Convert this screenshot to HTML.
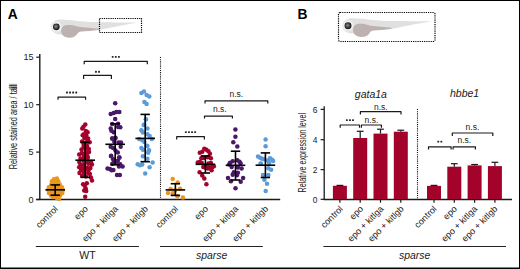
<!DOCTYPE html>
<html><head><meta charset="utf-8"><style>html,body{margin:0;padding:0;background:#fff;width:520px;height:269px;overflow:hidden;font-family:'Liberation Sans', sans-serif}</style></head>
<body>
<svg width="520" height="269" viewBox="0 0 520 269" style="position:absolute;left:0;top:0;font-family:'Liberation Sans', sans-serif">
<defs><radialGradient id="eyeg" cx="0.45" cy="0.45" r="0.6"><stop offset="0" stop-color="#909090"/><stop offset="0.5" stop-color="#444"/><stop offset="0.85" stop-color="#161616"/><stop offset="1" stop-color="#222"/></radialGradient></defs>
<rect x="0" y="0" width="520" height="269" fill="#fff"/>
<rect x="0.5" y="0.5" width="519" height="267.5" fill="none" stroke="#000" stroke-width="1"/>
<line x1="0" y1="268.5" x2="520" y2="268.5" stroke="#000" stroke-width="1" />
<text x="7.8" y="18.8" font-size="13.8" text-anchor="start" font-style="normal" font-weight="bold" fill="#000" >A</text>
<text x="297.4" y="18.8" font-size="13.8" text-anchor="start" font-style="normal" font-weight="bold" fill="#000" >B</text>
<g transform="translate(56.2,26.6) scale(1.0)">
<path d="M -4.9,0.4 C -4.9,-4 -2,-6.5 2,-6.9 C 8,-7.3 15,-6.2 23.4,-5.4 C 30,-4.9 37,-4.5 43,-4.4 C 60,-4.2 72,-4.2 81.3,-4.1 C 72,-2.5 60,0 44,3.1 L 30,4 L 22,5 L 10,8 C 5,8.5 0,7.6 -2,6.2 C -4,4.8 -4.9,2.5 -4.9,0.4 Z" fill="#e0e0e0"/>
<circle cx="0.2" cy="0.2" r="5.8" fill="#e9e9e9"/>
<circle cx="0.1" cy="0.2" r="4.4" fill="#f7f7f7"/>
<path d="M 5,4.4 C 5,0.5 7.5,-1.5 11,-1.6 C 14.5,-1.7 17,-1.2 19.5,-0.6 C 21.5,0 23,0.3 25,0.5 C 30,1 36,1.5 41.8,2.1 C 43.2,2.3 43.5,3.0 41.8,3.4 C 36,4.2 30,4.7 25,4.8 C 23,4.9 22,5.5 21,7.5 C 19.5,10 17,11.1 13.5,11.1 C 8.5,11.2 5,8.5 5,4.4 Z" fill="#bdb1b1"/>
<circle cx="0.1" cy="0.2" r="3.4" fill="url(#eyeg)"/>
</g>
<rect x="99.5" y="18.5" width="42.0" height="14.0" rx="0" fill="none" stroke="#000" stroke-width="1.2" stroke-dasharray="1.2 1"/>
<g transform="translate(347.9,25.5) scale(1.025)">
<path d="M -4.9,0.4 C -4.9,-4 -2,-6.5 2,-6.9 C 8,-7.3 15,-6.2 23.4,-5.4 C 30,-4.9 37,-4.5 43,-4.4 C 60,-4.2 72,-4.2 81.3,-4.1 C 72,-2.5 60,0 44,3.1 L 30,4 L 22,5 L 10,8 C 5,8.5 0,7.6 -2,6.2 C -4,4.8 -4.9,2.5 -4.9,0.4 Z" fill="#e0e0e0"/>
<circle cx="0.2" cy="0.2" r="5.8" fill="#e9e9e9"/>
<circle cx="0.1" cy="0.2" r="4.4" fill="#f7f7f7"/>
<path d="M 5,4.4 C 5,0.5 7.5,-1.5 11,-1.6 C 14.5,-1.7 17,-1.2 19.5,-0.6 C 21.5,0 23,0.3 25,0.5 C 30,1 36,1.5 41.8,2.1 C 43.2,2.3 43.5,3.0 41.8,3.4 C 36,4.2 30,4.7 25,4.8 C 23,4.9 22,5.5 21,7.5 C 19.5,10 17,11.1 13.5,11.1 C 8.5,11.2 5,8.5 5,4.4 Z" fill="#bdb1b1"/>
<circle cx="0.1" cy="0.2" r="3.4" fill="url(#eyeg)"/>
</g>
<rect x="338.5" y="12.5" width="96.5" height="29.0" rx="1.5" fill="none" stroke="#000" stroke-width="1.2" stroke-dasharray="1.2 1"/>
<line x1="39.8" y1="54" x2="39.8" y2="200.1" stroke="#1a1a1a" stroke-width="1.4" />
<line x1="36.2" y1="57.2" x2="39.8" y2="57.2" stroke="#1a1a1a" stroke-width="1.2" />
<text x="33.4" y="60.400000000000006" font-size="9" text-anchor="end" font-style="normal" font-weight="normal" fill="#1a1a1a" >15</text>
<line x1="36.2" y1="104.7" x2="39.8" y2="104.7" stroke="#1a1a1a" stroke-width="1.2" />
<text x="33.4" y="107.9" font-size="9" text-anchor="end" font-style="normal" font-weight="normal" fill="#1a1a1a" >10</text>
<line x1="36.2" y1="152.1" x2="39.8" y2="152.1" stroke="#1a1a1a" stroke-width="1.2" />
<text x="33.4" y="155.29999999999998" font-size="9" text-anchor="end" font-style="normal" font-weight="normal" fill="#1a1a1a" >5</text>
<line x1="36.2" y1="199.5" x2="39.8" y2="199.5" stroke="#1a1a1a" stroke-width="1.2" />
<text x="33.4" y="202.7" font-size="9" text-anchor="end" font-style="normal" font-weight="normal" fill="#1a1a1a" >0</text>
<line x1="36.2" y1="199.5" x2="280.2" y2="199.5" stroke="#1a1a1a" stroke-width="1.3" />
<line x1="160.5" y1="57" x2="160.5" y2="199" stroke="#111" stroke-width="1.1" stroke-dasharray="1.1 1.05"/>
<rect x="9.2" y="83.8" width="7.8" height="5.8" fill="#a8a8a8"/>
<text x="0" y="0" font-size="10.8" text-anchor="start" font-style="normal" font-weight="normal" fill="#1a1a1a" transform="translate(16.9,169.3) rotate(-90) scale(0.68,1)">Relative stained area / tail</text>
<line x1="324.2" y1="106.3" x2="324.2" y2="199.8" stroke="#1a1a1a" stroke-width="1.3" />
<line x1="320.6" y1="109.4" x2="324.2" y2="109.4" stroke="#1a1a1a" stroke-width="1.2" />
<text x="317.4" y="112.9" font-size="8.4" text-anchor="end" font-style="normal" font-weight="normal" fill="#1a1a1a" >6</text>
<line x1="320.6" y1="139.7" x2="324.2" y2="139.7" stroke="#1a1a1a" stroke-width="1.2" />
<text x="317.4" y="143.2" font-size="8.4" text-anchor="end" font-style="normal" font-weight="normal" fill="#1a1a1a" >4</text>
<line x1="320.6" y1="169.6" x2="324.2" y2="169.6" stroke="#1a1a1a" stroke-width="1.2" />
<text x="317.4" y="173.1" font-size="8.4" text-anchor="end" font-style="normal" font-weight="normal" fill="#1a1a1a" >2</text>
<line x1="320.6" y1="199.3" x2="324.2" y2="199.3" stroke="#1a1a1a" stroke-width="1.2" />
<text x="317.4" y="202.8" font-size="8.4" text-anchor="end" font-style="normal" font-weight="normal" fill="#1a1a1a" >0</text>
<line x1="323.6" y1="199.5" x2="512" y2="199.5" stroke="#1a1a1a" stroke-width="1.3" />
<line x1="417.5" y1="109" x2="417.5" y2="199" stroke="#111" stroke-width="1.1" stroke-dasharray="1.1 1.05"/>
<text x="0" y="0" font-size="10.6" text-anchor="start" font-style="normal" font-weight="normal" fill="#1a1a1a" transform="translate(306.2,192.4) rotate(-90) scale(0.678,1)">Relative expression level</text>
<rect x="332.9" y="185.8" width="14" height="13.199999999999989" fill="#a3022b"/>
<line x1="339.9" y1="185.4" x2="339.9" y2="185.8" stroke="#1a1a1a" stroke-width="1.2" />
<line x1="336.5" y1="185.4" x2="343.29999999999995" y2="185.4" stroke="#1a1a1a" stroke-width="1.2" />
<line x1="339.9" y1="199.5" x2="339.9" y2="202.7" stroke="#1a1a1a" stroke-width="1.2" />
<rect x="353.2" y="138.0" width="14" height="61.0" fill="#a3022b"/>
<line x1="360.2" y1="131.3" x2="360.2" y2="138.0" stroke="#1a1a1a" stroke-width="1.2" />
<line x1="356.8" y1="131.3" x2="363.59999999999997" y2="131.3" stroke="#1a1a1a" stroke-width="1.2" />
<line x1="360.2" y1="199.5" x2="360.2" y2="202.7" stroke="#1a1a1a" stroke-width="1.2" />
<rect x="373.5" y="133.6" width="14" height="65.4" fill="#a3022b"/>
<line x1="380.5" y1="129.2" x2="380.5" y2="133.6" stroke="#1a1a1a" stroke-width="1.2" />
<line x1="377.1" y1="129.2" x2="383.9" y2="129.2" stroke="#1a1a1a" stroke-width="1.2" />
<line x1="380.5" y1="199.5" x2="380.5" y2="202.7" stroke="#1a1a1a" stroke-width="1.2" />
<rect x="393.8" y="131.7" width="14" height="67.30000000000001" fill="#a3022b"/>
<line x1="400.8" y1="130.2" x2="400.8" y2="131.7" stroke="#1a1a1a" stroke-width="1.2" />
<line x1="397.40000000000003" y1="130.2" x2="404.2" y2="130.2" stroke="#1a1a1a" stroke-width="1.2" />
<line x1="400.8" y1="199.5" x2="400.8" y2="202.7" stroke="#1a1a1a" stroke-width="1.2" />
<rect x="427.0" y="185.9" width="14" height="13.099999999999994" fill="#a3022b"/>
<line x1="434.0" y1="185.4" x2="434.0" y2="185.9" stroke="#1a1a1a" stroke-width="1.2" />
<line x1="430.6" y1="185.4" x2="437.4" y2="185.4" stroke="#1a1a1a" stroke-width="1.2" />
<line x1="434.0" y1="199.5" x2="434.0" y2="202.7" stroke="#1a1a1a" stroke-width="1.2" />
<rect x="447.3" y="166.7" width="14" height="32.30000000000001" fill="#a3022b"/>
<line x1="454.3" y1="163.7" x2="454.3" y2="166.7" stroke="#1a1a1a" stroke-width="1.2" />
<line x1="450.90000000000003" y1="163.7" x2="457.7" y2="163.7" stroke="#1a1a1a" stroke-width="1.2" />
<line x1="454.3" y1="199.5" x2="454.3" y2="202.7" stroke="#1a1a1a" stroke-width="1.2" />
<rect x="467.6" y="165.4" width="14" height="33.599999999999994" fill="#a3022b"/>
<line x1="474.6" y1="164.5" x2="474.6" y2="165.4" stroke="#1a1a1a" stroke-width="1.2" />
<line x1="471.20000000000005" y1="164.5" x2="478.0" y2="164.5" stroke="#1a1a1a" stroke-width="1.2" />
<line x1="474.6" y1="199.5" x2="474.6" y2="202.7" stroke="#1a1a1a" stroke-width="1.2" />
<rect x="487.9" y="166.1" width="14" height="32.900000000000006" fill="#a3022b"/>
<line x1="494.9" y1="162.3" x2="494.9" y2="166.1" stroke="#1a1a1a" stroke-width="1.2" />
<line x1="491.5" y1="162.3" x2="498.29999999999995" y2="162.3" stroke="#1a1a1a" stroke-width="1.2" />
<line x1="494.9" y1="199.5" x2="494.9" y2="202.7" stroke="#1a1a1a" stroke-width="1.2" />
<text x="370.9" y="97.8" font-size="10.5" text-anchor="middle" font-style="italic" font-weight="normal" fill="#1a1a1a" >gata1a</text>
<text x="464.6" y="97.2" font-size="10.5" text-anchor="middle" font-style="italic" font-weight="normal" fill="#1a1a1a" >hbbe1</text>
<path d="M 340.2,127.8 L 340.2,125 L 359.5,125 L 359.5,127.8" fill="none" stroke="#1a1a1a" stroke-width="1.2" stroke-linejoin="round"/>
<rect x="345.85" y="119.15" width="1.9" height="1.9" rx="0.5" fill="#262626"/>
<rect x="348.95" y="119.15" width="1.9" height="1.9" rx="0.5" fill="#262626"/>
<rect x="352.05" y="119.15" width="1.9" height="1.9" rx="0.5" fill="#262626"/>
<path d="M 361.4,127.8 L 361.4,125 L 381.4,125 L 381.4,127.8" fill="none" stroke="#1a1a1a" stroke-width="1.2" stroke-linejoin="round"/>
<text x="371.4" y="122.60000000000001" font-size="8.5" text-anchor="middle" font-style="normal" font-weight="normal" fill="#1a1a1a" >n.s.</text>
<path d="M 360.4,114.4 L 360.4,111.7 L 401,111.7 L 401,114.4" fill="none" stroke="#1a1a1a" stroke-width="1.2" stroke-linejoin="round"/>
<text x="380.8" y="109.5" font-size="8.5" text-anchor="middle" font-style="normal" font-weight="normal" fill="#1a1a1a" >n.s.</text>
<path d="M 428.5,149.4 L 428.5,146.8 L 451.1,146.8 L 451.1,149.4" fill="none" stroke="#1a1a1a" stroke-width="1.2" stroke-linejoin="round"/>
<rect x="437.30" y="140.65" width="1.9" height="1.9" rx="0.5" fill="#262626"/>
<rect x="440.40" y="140.65" width="1.9" height="1.9" rx="0.5" fill="#262626"/>
<path d="M 453.1,149.4 L 453.1,146.8 L 475.4,146.8 L 475.4,149.4" fill="none" stroke="#1a1a1a" stroke-width="1.2" stroke-linejoin="round"/>
<text x="464.3" y="143.39999999999998" font-size="8.5" text-anchor="middle" font-style="normal" font-weight="normal" fill="#1a1a1a" >n.s.</text>
<path d="M 452.3,136.1 L 452.3,133 L 492.8,133 L 492.8,136.1" fill="none" stroke="#1a1a1a" stroke-width="1.2" stroke-linejoin="round"/>
<text x="472.4" y="130.29999999999998" font-size="8.5" text-anchor="middle" font-style="normal" font-weight="normal" fill="#1a1a1a" >n.s.</text>
<path d="M 58,99.7 L 58,97.1 L 85.6,97.1 L 85.6,99.7" fill="none" stroke="#1a1a1a" stroke-width="1.2" stroke-linejoin="round"/>
<rect x="66.00" y="91.55" width="1.9" height="1.9" rx="0.5" fill="#262626"/>
<rect x="69.10" y="91.55" width="1.9" height="1.9" rx="0.5" fill="#262626"/>
<rect x="72.20" y="91.55" width="1.9" height="1.9" rx="0.5" fill="#262626"/>
<rect x="75.30" y="91.55" width="1.9" height="1.9" rx="0.5" fill="#262626"/>
<path d="M 83.6,78.9 L 83.6,75.4 L 111.4,75.4 L 111.4,78.9" fill="none" stroke="#1a1a1a" stroke-width="1.2" stroke-linejoin="round"/>
<rect x="95.00" y="70.75" width="1.9" height="1.9" rx="0.5" fill="#262626"/>
<rect x="98.10" y="70.75" width="1.9" height="1.9" rx="0.5" fill="#262626"/>
<path d="M 84.2,64.3 L 84.2,61.3 L 147.3,61.3 L 147.3,64.3" fill="none" stroke="#1a1a1a" stroke-width="1.2" stroke-linejoin="round"/>
<rect x="111.75" y="55.95" width="1.9" height="1.9" rx="0.5" fill="#262626"/>
<rect x="114.85" y="55.95" width="1.9" height="1.9" rx="0.5" fill="#262626"/>
<rect x="117.95" y="55.95" width="1.9" height="1.9" rx="0.5" fill="#262626"/>
<path d="M 176.7,139.5 L 176.7,136.7 L 204.4,136.7 L 204.4,139.5" fill="none" stroke="#1a1a1a" stroke-width="1.2" stroke-linejoin="round"/>
<rect x="184.90" y="131.15" width="1.9" height="1.9" rx="0.5" fill="#262626"/>
<rect x="188.00" y="131.15" width="1.9" height="1.9" rx="0.5" fill="#262626"/>
<rect x="191.10" y="131.15" width="1.9" height="1.9" rx="0.5" fill="#262626"/>
<rect x="194.20" y="131.15" width="1.9" height="1.9" rx="0.5" fill="#262626"/>
<path d="M 204.5,118.6 L 204.5,116.2 L 232.4,116.2 L 232.4,118.6" fill="none" stroke="#1a1a1a" stroke-width="1.2" stroke-linejoin="round"/>
<text x="219.8" y="111.9" font-size="8.5" text-anchor="middle" font-style="normal" font-weight="normal" fill="#1a1a1a" >n.s.</text>
<path d="M 205,103.5 L 205,100.8 L 267.8,100.8 L 267.8,103.5" fill="none" stroke="#1a1a1a" stroke-width="1.2" stroke-linejoin="round"/>
<text x="236.3" y="97.2" font-size="8.5" text-anchor="middle" font-style="normal" font-weight="normal" fill="#1a1a1a" >n.s.</text>
<circle cx="53.9" cy="179.2" r="2.25" fill="#e9961e"/>
<circle cx="56.9" cy="178.6" r="2.25" fill="#e9961e"/>
<circle cx="51.9" cy="181.3" r="2.25" fill="#e9961e"/>
<circle cx="55.1" cy="181.3" r="2.25" fill="#e9961e"/>
<circle cx="58.3" cy="181.3" r="2.25" fill="#e9961e"/>
<circle cx="51.3" cy="184.5" r="2.25" fill="#e9961e"/>
<circle cx="54.1" cy="184.5" r="2.25" fill="#e9961e"/>
<circle cx="57.0" cy="184.5" r="2.25" fill="#e9961e"/>
<circle cx="59.8" cy="184.5" r="2.25" fill="#e9961e"/>
<circle cx="48.9" cy="187.3" r="2.25" fill="#e9961e"/>
<circle cx="52.1" cy="187.3" r="2.25" fill="#e9961e"/>
<circle cx="55.4" cy="187.3" r="2.25" fill="#e9961e"/>
<circle cx="58.6" cy="187.3" r="2.25" fill="#e9961e"/>
<circle cx="61.9" cy="187.3" r="2.25" fill="#e9961e"/>
<circle cx="48.3" cy="190.1" r="2.25" fill="#e9961e"/>
<circle cx="51.2" cy="190.1" r="2.25" fill="#e9961e"/>
<circle cx="54.1" cy="190.1" r="2.25" fill="#e9961e"/>
<circle cx="57.1" cy="190.1" r="2.25" fill="#e9961e"/>
<circle cx="60.0" cy="190.1" r="2.25" fill="#e9961e"/>
<circle cx="62.9" cy="190.1" r="2.25" fill="#e9961e"/>
<circle cx="48.9" cy="192.9" r="2.25" fill="#e9961e"/>
<circle cx="52.2" cy="192.9" r="2.25" fill="#e9961e"/>
<circle cx="55.6" cy="192.9" r="2.25" fill="#e9961e"/>
<circle cx="58.9" cy="192.9" r="2.25" fill="#e9961e"/>
<circle cx="62.3" cy="192.9" r="2.25" fill="#e9961e"/>
<circle cx="51.1" cy="195.5" r="2.25" fill="#e9961e"/>
<circle cx="54.1" cy="195.5" r="2.25" fill="#e9961e"/>
<circle cx="57.1" cy="195.5" r="2.25" fill="#e9961e"/>
<circle cx="60.1" cy="195.5" r="2.25" fill="#e9961e"/>
<circle cx="56.9" cy="197.9" r="2.25" fill="#e9961e"/>
<circle cx="58.9" cy="199.1" r="2.25" fill="#e9961e"/>
<circle cx="52.9" cy="196.9" r="2.25" fill="#e9961e"/>
<circle cx="85.3" cy="124.5" r="2.25" fill="#a3022b"/>
<circle cx="83.5" cy="126.8" r="2.25" fill="#a3022b"/>
<circle cx="82.3" cy="128.5" r="2.25" fill="#a3022b"/>
<circle cx="85.8" cy="131.0" r="2.25" fill="#a3022b"/>
<circle cx="87.6" cy="132.2" r="2.25" fill="#a3022b"/>
<circle cx="83.9" cy="134.3" r="2.25" fill="#a3022b"/>
<circle cx="82.7" cy="135.2" r="2.25" fill="#a3022b"/>
<circle cx="86.3" cy="135.6" r="2.25" fill="#a3022b"/>
<circle cx="84.4" cy="138.0" r="2.25" fill="#a3022b"/>
<circle cx="88.1" cy="138.4" r="2.25" fill="#a3022b"/>
<circle cx="82.1" cy="141.4" r="2.25" fill="#a3022b"/>
<circle cx="87.5" cy="139.6" r="2.25" fill="#a3022b"/>
<circle cx="89.7" cy="142.3" r="2.25" fill="#a3022b"/>
<circle cx="83.6" cy="144.0" r="2.25" fill="#a3022b"/>
<circle cx="85.9" cy="142.6" r="2.25" fill="#a3022b"/>
<circle cx="83.6" cy="146.7" r="2.25" fill="#a3022b"/>
<circle cx="87.1" cy="146.0" r="2.25" fill="#a3022b"/>
<circle cx="81.5" cy="149.5" r="2.25" fill="#a3022b"/>
<circle cx="85.2" cy="148.8" r="2.25" fill="#a3022b"/>
<circle cx="88.8" cy="149.1" r="2.25" fill="#a3022b"/>
<circle cx="81.9" cy="153.1" r="2.25" fill="#a3022b"/>
<circle cx="86.0" cy="152.4" r="2.25" fill="#a3022b"/>
<circle cx="89.0" cy="151.9" r="2.25" fill="#a3022b"/>
<circle cx="79.2" cy="154.5" r="2.25" fill="#a3022b"/>
<circle cx="83.7" cy="155.0" r="2.25" fill="#a3022b"/>
<circle cx="87.4" cy="155.9" r="2.25" fill="#a3022b"/>
<circle cx="80.5" cy="158.4" r="2.25" fill="#a3022b"/>
<circle cx="83.9" cy="157.5" r="2.25" fill="#a3022b"/>
<circle cx="87.8" cy="157.7" r="2.25" fill="#a3022b"/>
<circle cx="79.3" cy="162.1" r="2.25" fill="#a3022b"/>
<circle cx="83.4" cy="160.8" r="2.25" fill="#a3022b"/>
<circle cx="87.5" cy="161.8" r="2.25" fill="#a3022b"/>
<circle cx="91.1" cy="162.0" r="2.25" fill="#a3022b"/>
<circle cx="80.5" cy="164.8" r="2.25" fill="#a3022b"/>
<circle cx="83.6" cy="165.1" r="2.25" fill="#a3022b"/>
<circle cx="88.4" cy="163.8" r="2.25" fill="#a3022b"/>
<circle cx="91.9" cy="164.6" r="2.25" fill="#a3022b"/>
<circle cx="79.2" cy="167.3" r="2.25" fill="#a3022b"/>
<circle cx="83.0" cy="168.0" r="2.25" fill="#a3022b"/>
<circle cx="86.9" cy="167.8" r="2.25" fill="#a3022b"/>
<circle cx="90.4" cy="167.9" r="2.25" fill="#a3022b"/>
<circle cx="81.1" cy="170.2" r="2.25" fill="#a3022b"/>
<circle cx="84.4" cy="171.0" r="2.25" fill="#a3022b"/>
<circle cx="88.5" cy="170.3" r="2.25" fill="#a3022b"/>
<circle cx="79.5" cy="173.0" r="2.25" fill="#a3022b"/>
<circle cx="84.0" cy="172.8" r="2.25" fill="#a3022b"/>
<circle cx="88.2" cy="172.9" r="2.25" fill="#a3022b"/>
<circle cx="82.1" cy="176.0" r="2.25" fill="#a3022b"/>
<circle cx="85.9" cy="176.6" r="2.25" fill="#a3022b"/>
<circle cx="89.9" cy="173.9" r="2.25" fill="#a3022b"/>
<circle cx="90.9" cy="177.5" r="2.25" fill="#a3022b"/>
<circle cx="92.0" cy="180.6" r="2.25" fill="#a3022b"/>
<circle cx="86.8" cy="183.2" r="2.25" fill="#a3022b"/>
<circle cx="83.1" cy="184.3" r="2.25" fill="#a3022b"/>
<circle cx="84.7" cy="185.8" r="2.25" fill="#a3022b"/>
<circle cx="85.7" cy="188.4" r="2.25" fill="#a3022b"/>
<circle cx="84.2" cy="190.5" r="2.25" fill="#a3022b"/>
<circle cx="86.2" cy="191.0" r="2.25" fill="#a3022b"/>
<circle cx="85.2" cy="196.7" r="2.25" fill="#a3022b"/>
<circle cx="115.2" cy="103.3" r="2.25" fill="#4b1768"/>
<circle cx="110.7" cy="114.0" r="2.25" fill="#4b1768"/>
<circle cx="113.7" cy="112.9" r="2.25" fill="#4b1768"/>
<circle cx="116.3" cy="111.9" r="2.25" fill="#4b1768"/>
<circle cx="119.3" cy="111.9" r="2.25" fill="#4b1768"/>
<circle cx="115.2" cy="118.9" r="2.25" fill="#4b1768"/>
<circle cx="112.2" cy="124.1" r="2.25" fill="#4b1768"/>
<circle cx="118.1" cy="123.8" r="2.25" fill="#4b1768"/>
<circle cx="110.7" cy="128.5" r="2.25" fill="#4b1768"/>
<circle cx="118.1" cy="127.0" r="2.25" fill="#4b1768"/>
<circle cx="120.3" cy="127.3" r="2.25" fill="#4b1768"/>
<circle cx="111.4" cy="130.8" r="2.25" fill="#4b1768"/>
<circle cx="113.7" cy="132.3" r="2.25" fill="#4b1768"/>
<circle cx="112.2" cy="138.6" r="2.25" fill="#4b1768"/>
<circle cx="115.2" cy="138.6" r="2.25" fill="#4b1768"/>
<circle cx="112.3" cy="138.5" r="2.25" fill="#4b1768"/>
<circle cx="115.5" cy="137.7" r="2.25" fill="#4b1768"/>
<circle cx="114.3" cy="141.7" r="2.25" fill="#4b1768"/>
<circle cx="118.6" cy="142.5" r="2.25" fill="#4b1768"/>
<circle cx="121.0" cy="142.5" r="2.25" fill="#4b1768"/>
<circle cx="110.7" cy="146.8" r="2.25" fill="#4b1768"/>
<circle cx="113.1" cy="148.1" r="2.25" fill="#4b1768"/>
<circle cx="120.7" cy="146.8" r="2.25" fill="#4b1768"/>
<circle cx="115.5" cy="150.5" r="2.25" fill="#4b1768"/>
<circle cx="117.8" cy="152.5" r="2.25" fill="#4b1768"/>
<circle cx="111.1" cy="155.7" r="2.25" fill="#4b1768"/>
<circle cx="119.1" cy="157.6" r="2.25" fill="#4b1768"/>
<circle cx="113.1" cy="159.2" r="2.25" fill="#4b1768"/>
<circle cx="115.5" cy="161.6" r="2.25" fill="#4b1768"/>
<circle cx="117.8" cy="160.8" r="2.25" fill="#4b1768"/>
<circle cx="112.3" cy="163.7" r="2.25" fill="#4b1768"/>
<circle cx="120.2" cy="164.3" r="2.25" fill="#4b1768"/>
<circle cx="122.6" cy="166.4" r="2.25" fill="#4b1768"/>
<circle cx="107.5" cy="168.5" r="2.25" fill="#4b1768"/>
<circle cx="109.9" cy="169.1" r="2.25" fill="#4b1768"/>
<circle cx="113.4" cy="170.1" r="2.25" fill="#4b1768"/>
<circle cx="117.0" cy="174.9" r="2.25" fill="#4b1768"/>
<circle cx="119.8" cy="174.9" r="2.25" fill="#4b1768"/>
<circle cx="119.0" cy="166.4" r="2.25" fill="#4b1768"/>
<circle cx="111.6" cy="170.2" r="2.25" fill="#4b1768"/>
<circle cx="113.9" cy="162.3" r="2.25" fill="#4b1768"/>
<circle cx="117.2" cy="161.8" r="2.25" fill="#4b1768"/>
<circle cx="111.1" cy="156.2" r="2.25" fill="#4b1768"/>
<circle cx="119.5" cy="157.6" r="2.25" fill="#4b1768"/>
<circle cx="141.4" cy="93.0" r="2.25" fill="#5b9bd8"/>
<circle cx="144.0" cy="91.5" r="2.25" fill="#5b9bd8"/>
<circle cx="146.6" cy="94.9" r="2.25" fill="#5b9bd8"/>
<circle cx="149.3" cy="96.4" r="2.25" fill="#5b9bd8"/>
<circle cx="144.4" cy="101.9" r="2.25" fill="#5b9bd8"/>
<circle cx="146.6" cy="104.1" r="2.25" fill="#5b9bd8"/>
<circle cx="145.9" cy="119.3" r="2.25" fill="#5b9bd8"/>
<circle cx="144.4" cy="124.6" r="2.25" fill="#5b9bd8"/>
<circle cx="145.9" cy="119.5" r="2.25" fill="#5b9bd8"/>
<circle cx="143.7" cy="125.0" r="2.25" fill="#5b9bd8"/>
<circle cx="147.4" cy="128.4" r="2.25" fill="#5b9bd8"/>
<circle cx="141.4" cy="130.2" r="2.25" fill="#5b9bd8"/>
<circle cx="142.9" cy="132.4" r="2.25" fill="#5b9bd8"/>
<circle cx="147.4" cy="134.3" r="2.25" fill="#5b9bd8"/>
<circle cx="149.6" cy="136.1" r="2.25" fill="#5b9bd8"/>
<circle cx="151.8" cy="139.1" r="2.25" fill="#5b9bd8"/>
<circle cx="139.2" cy="139.1" r="2.25" fill="#5b9bd8"/>
<circle cx="142.2" cy="140.3" r="2.25" fill="#5b9bd8"/>
<circle cx="144.4" cy="142.1" r="2.25" fill="#5b9bd8"/>
<circle cx="146.6" cy="145.8" r="2.25" fill="#5b9bd8"/>
<circle cx="141.4" cy="148.0" r="2.25" fill="#5b9bd8"/>
<circle cx="142.9" cy="149.8" r="2.25" fill="#5b9bd8"/>
<circle cx="148.9" cy="150.3" r="2.25" fill="#5b9bd8"/>
<circle cx="148.1" cy="152.8" r="2.25" fill="#5b9bd8"/>
<circle cx="142.9" cy="156.2" r="2.25" fill="#5b9bd8"/>
<circle cx="147.4" cy="146.0" r="2.25" fill="#5b9bd8"/>
<circle cx="148.9" cy="150.5" r="2.25" fill="#5b9bd8"/>
<circle cx="147.4" cy="158.7" r="2.25" fill="#5b9bd8"/>
<circle cx="137.7" cy="164.3" r="2.25" fill="#5b9bd8"/>
<circle cx="140.0" cy="165.3" r="2.25" fill="#5b9bd8"/>
<circle cx="142.2" cy="164.6" r="2.25" fill="#5b9bd8"/>
<circle cx="152.6" cy="162.4" r="2.25" fill="#5b9bd8"/>
<circle cx="149.6" cy="167.3" r="2.25" fill="#5b9bd8"/>
<circle cx="145.2" cy="173.5" r="2.25" fill="#5b9bd8"/>
<circle cx="172.7" cy="179.0" r="2.25" fill="#e9961e"/>
<circle cx="177.7" cy="182.6" r="2.25" fill="#e9961e"/>
<circle cx="170.6" cy="188.9" r="2.25" fill="#e9961e"/>
<circle cx="180.0" cy="188.7" r="2.25" fill="#e9961e"/>
<circle cx="168.0" cy="193.0" r="2.25" fill="#e9961e"/>
<circle cx="172.7" cy="193.2" r="2.25" fill="#e9961e"/>
<circle cx="177.4" cy="196.3" r="2.25" fill="#e9961e"/>
<circle cx="182.9" cy="197.4" r="2.25" fill="#e9961e"/>
<circle cx="175.1" cy="190.3" r="2.25" fill="#e9961e"/>
<circle cx="204.3" cy="148.8" r="2.25" fill="#a3022b"/>
<circle cx="206.4" cy="149.8" r="2.25" fill="#a3022b"/>
<circle cx="199.8" cy="152.8" r="2.25" fill="#a3022b"/>
<circle cx="202.3" cy="151.8" r="2.25" fill="#a3022b"/>
<circle cx="208.4" cy="151.3" r="2.25" fill="#a3022b"/>
<circle cx="209.9" cy="153.8" r="2.25" fill="#a3022b"/>
<circle cx="201.3" cy="158.2" r="2.25" fill="#a3022b"/>
<circle cx="203.3" cy="157.9" r="2.25" fill="#a3022b"/>
<circle cx="207.9" cy="157.3" r="2.25" fill="#a3022b"/>
<circle cx="210.9" cy="158.3" r="2.25" fill="#a3022b"/>
<circle cx="197.8" cy="162.4" r="2.25" fill="#a3022b"/>
<circle cx="199.8" cy="161.9" r="2.25" fill="#a3022b"/>
<circle cx="201.8" cy="162.9" r="2.25" fill="#a3022b"/>
<circle cx="208.4" cy="163.4" r="2.25" fill="#a3022b"/>
<circle cx="210.9" cy="162.9" r="2.25" fill="#a3022b"/>
<circle cx="203.3" cy="166.9" r="2.25" fill="#a3022b"/>
<circle cx="205.3" cy="167.4" r="2.25" fill="#a3022b"/>
<circle cx="212.4" cy="166.9" r="2.25" fill="#a3022b"/>
<circle cx="213.9" cy="166.2" r="2.25" fill="#a3022b"/>
<circle cx="207.9" cy="166.0" r="2.25" fill="#a3022b"/>
<circle cx="210.5" cy="167.6" r="2.25" fill="#a3022b"/>
<circle cx="211.6" cy="170.2" r="2.25" fill="#a3022b"/>
<circle cx="207.9" cy="168.6" r="2.25" fill="#a3022b"/>
<circle cx="199.6" cy="172.3" r="2.25" fill="#a3022b"/>
<circle cx="202.2" cy="175.4" r="2.25" fill="#a3022b"/>
<circle cx="204.3" cy="178.5" r="2.25" fill="#a3022b"/>
<circle cx="206.4" cy="184.3" r="2.25" fill="#a3022b"/>
<circle cx="235.4" cy="129.6" r="2.25" fill="#4b1768"/>
<circle cx="235.4" cy="136.8" r="2.25" fill="#4b1768"/>
<circle cx="233.3" cy="142.3" r="2.25" fill="#4b1768"/>
<circle cx="237.3" cy="146.5" r="2.25" fill="#4b1768"/>
<circle cx="232.7" cy="161.2" r="2.25" fill="#4b1768"/>
<circle cx="230.1" cy="162.8" r="2.25" fill="#4b1768"/>
<circle cx="237.4" cy="160.2" r="2.25" fill="#4b1768"/>
<circle cx="239.5" cy="161.8" r="2.25" fill="#4b1768"/>
<circle cx="229.1" cy="164.4" r="2.25" fill="#4b1768"/>
<circle cx="240.5" cy="163.3" r="2.25" fill="#4b1768"/>
<circle cx="231.7" cy="167.0" r="2.25" fill="#4b1768"/>
<circle cx="237.9" cy="167.5" r="2.25" fill="#4b1768"/>
<circle cx="241.6" cy="168.5" r="2.25" fill="#4b1768"/>
<circle cx="233.8" cy="172.2" r="2.25" fill="#4b1768"/>
<circle cx="237.9" cy="172.7" r="2.25" fill="#4b1768"/>
<circle cx="236.9" cy="175.3" r="2.25" fill="#4b1768"/>
<circle cx="232.7" cy="174.8" r="2.25" fill="#4b1768"/>
<circle cx="228.0" cy="177.9" r="2.25" fill="#4b1768"/>
<circle cx="243.1" cy="177.9" r="2.25" fill="#4b1768"/>
<circle cx="230.9" cy="181.3" r="2.25" fill="#4b1768"/>
<circle cx="240.7" cy="181.8" r="2.25" fill="#4b1768"/>
<circle cx="235.5" cy="188.3" r="2.25" fill="#4b1768"/>
<circle cx="265.6" cy="139.4" r="2.25" fill="#5b9bd8"/>
<circle cx="265.6" cy="146.2" r="2.25" fill="#5b9bd8"/>
<circle cx="258.0" cy="156.6" r="2.25" fill="#5b9bd8"/>
<circle cx="260.1" cy="157.7" r="2.25" fill="#5b9bd8"/>
<circle cx="262.2" cy="158.7" r="2.25" fill="#5b9bd8"/>
<circle cx="264.3" cy="159.2" r="2.25" fill="#5b9bd8"/>
<circle cx="270.0" cy="158.2" r="2.25" fill="#5b9bd8"/>
<circle cx="272.1" cy="159.7" r="2.25" fill="#5b9bd8"/>
<circle cx="273.1" cy="161.1" r="2.25" fill="#5b9bd8"/>
<circle cx="260.6" cy="163.4" r="2.25" fill="#5b9bd8"/>
<circle cx="267.9" cy="160.5" r="2.25" fill="#5b9bd8"/>
<circle cx="261.0" cy="163.7" r="2.25" fill="#5b9bd8"/>
<circle cx="269.1" cy="163.0" r="2.25" fill="#5b9bd8"/>
<circle cx="271.1" cy="169.7" r="2.25" fill="#5b9bd8"/>
<circle cx="268.4" cy="168.3" r="2.25" fill="#5b9bd8"/>
<circle cx="263.0" cy="175.1" r="2.25" fill="#5b9bd8"/>
<circle cx="268.4" cy="175.1" r="2.25" fill="#5b9bd8"/>
<circle cx="264.4" cy="179.7" r="2.25" fill="#5b9bd8"/>
<circle cx="267.0" cy="183.8" r="2.25" fill="#5b9bd8"/>
<circle cx="265.7" cy="191.1" r="2.25" fill="#5b9bd8"/>
<line x1="55.2" y1="184.9" x2="55.2" y2="195.2" stroke="#000" stroke-width="1.6" />
<line x1="50.5" y1="184.9" x2="59.900000000000006" y2="184.9" stroke="#000" stroke-width="1.6" />
<line x1="50.5" y1="195.2" x2="59.900000000000006" y2="195.2" stroke="#000" stroke-width="1.6" />
<line x1="45.400000000000006" y1="189.8" x2="65.0" y2="189.8" stroke="#000" stroke-width="1.6" />
<line x1="85.2" y1="142.3" x2="85.2" y2="177.3" stroke="#000" stroke-width="1.6" />
<line x1="80.5" y1="142.3" x2="89.9" y2="142.3" stroke="#000" stroke-width="1.6" />
<line x1="80.5" y1="177.3" x2="89.9" y2="177.3" stroke="#000" stroke-width="1.6" />
<line x1="75.4" y1="160.2" x2="95.0" y2="160.2" stroke="#000" stroke-width="1.6" />
<line x1="115.2" y1="123.8" x2="115.2" y2="164.8" stroke="#000" stroke-width="1.6" />
<line x1="110.5" y1="123.8" x2="119.9" y2="123.8" stroke="#000" stroke-width="1.6" />
<line x1="110.5" y1="164.8" x2="119.9" y2="164.8" stroke="#000" stroke-width="1.6" />
<line x1="105.4" y1="144.3" x2="125.0" y2="144.3" stroke="#000" stroke-width="1.6" />
<line x1="145.2" y1="114.4" x2="145.2" y2="161.7" stroke="#000" stroke-width="1.6" />
<line x1="140.5" y1="114.4" x2="149.89999999999998" y2="114.4" stroke="#000" stroke-width="1.6" />
<line x1="140.5" y1="161.7" x2="149.89999999999998" y2="161.7" stroke="#000" stroke-width="1.6" />
<line x1="135.39999999999998" y1="138.4" x2="155.0" y2="138.4" stroke="#000" stroke-width="1.6" />
<line x1="175.4" y1="183.7" x2="175.4" y2="195.4" stroke="#000" stroke-width="1.6" />
<line x1="170.70000000000002" y1="183.7" x2="180.1" y2="183.7" stroke="#000" stroke-width="1.6" />
<line x1="170.70000000000002" y1="195.4" x2="180.1" y2="195.4" stroke="#000" stroke-width="1.6" />
<line x1="165.6" y1="189.9" x2="185.20000000000002" y2="189.9" stroke="#000" stroke-width="1.6" />
<line x1="205.4" y1="155.9" x2="205.4" y2="173.0" stroke="#000" stroke-width="1.6" />
<line x1="200.70000000000002" y1="155.9" x2="210.1" y2="155.9" stroke="#000" stroke-width="1.6" />
<line x1="200.70000000000002" y1="173.0" x2="210.1" y2="173.0" stroke="#000" stroke-width="1.6" />
<line x1="195.6" y1="164.3" x2="215.20000000000002" y2="164.3" stroke="#000" stroke-width="1.6" />
<line x1="235.5" y1="151.2" x2="235.5" y2="180.0" stroke="#000" stroke-width="1.6" />
<line x1="230.8" y1="151.2" x2="240.2" y2="151.2" stroke="#000" stroke-width="1.6" />
<line x1="230.8" y1="180.0" x2="240.2" y2="180.0" stroke="#000" stroke-width="1.6" />
<line x1="225.7" y1="165.3" x2="245.3" y2="165.3" stroke="#000" stroke-width="1.6" />
<line x1="265.4" y1="152.9" x2="265.4" y2="177.5" stroke="#000" stroke-width="1.6" />
<line x1="260.7" y1="152.9" x2="270.09999999999997" y2="152.9" stroke="#000" stroke-width="1.6" />
<line x1="260.7" y1="177.5" x2="270.09999999999997" y2="177.5" stroke="#000" stroke-width="1.6" />
<line x1="255.59999999999997" y1="165.2" x2="275.2" y2="165.2" stroke="#000" stroke-width="1.6" />
<text x="0" y="0" font-size="9" text-anchor="end" font-style="normal" font-weight="normal" fill="#1a1a1a" transform="translate(58.5,209.5) rotate(-45)">control</text>
<text x="0" y="0" font-size="9" text-anchor="end" font-style="normal" font-weight="normal" fill="#1a1a1a" transform="translate(178.7,209.5) rotate(-45)">control</text>
<text x="0" y="0" font-size="9" text-anchor="end" font-style="normal" font-weight="normal" fill="#1a1a1a" transform="translate(343.5,209.5) rotate(-45)">control</text>
<text x="0" y="0" font-size="9" text-anchor="end" font-style="normal" font-weight="normal" fill="#1a1a1a" transform="translate(437.2,209.5) rotate(-45)">control</text>
<text x="0" y="0" font-size="9" text-anchor="end" font-style="normal" font-weight="normal" fill="#1a1a1a" transform="translate(88.5,209.5) rotate(-45)">epo</text>
<text x="0" y="0" font-size="9" text-anchor="end" font-style="normal" font-weight="normal" fill="#1a1a1a" transform="translate(208.7,209.5) rotate(-45)">epo</text>
<text x="0" y="0" font-size="9" text-anchor="end" font-style="normal" font-weight="normal" fill="#1a1a1a" transform="translate(363.8,209.5) rotate(-45)">epo</text>
<text x="0" y="0" font-size="9" text-anchor="end" font-style="normal" font-weight="normal" fill="#1a1a1a" transform="translate(457.5,209.5) rotate(-45)">epo</text>
<text x="0" y="0" font-size="9" text-anchor="end" font-style="normal" font-weight="normal" fill="#1a1a1a" transform="translate(118.5,209.5) rotate(-45)">epo + kitlga</text>
<text x="0" y="0" font-size="9" text-anchor="end" font-style="normal" font-weight="normal" fill="#1a1a1a" transform="translate(238.7,209.5) rotate(-45)">epo + kitlga</text>
<text x="0" y="0" font-size="9" text-anchor="end" font-style="normal" font-weight="normal" fill="#1a1a1a" transform="translate(384.1,209.5) rotate(-45)">epo + kitlga</text>
<text x="0" y="0" font-size="9" text-anchor="end" font-style="normal" font-weight="normal" fill="#1a1a1a" transform="translate(477.8,209.5) rotate(-45)">epo + kitlga</text>
<text x="0" y="0" font-size="9" text-anchor="end" font-style="normal" font-weight="normal" fill="#1a1a1a" transform="translate(148.5,209.5) rotate(-45)">epo + kitlgb</text>
<text x="0" y="0" font-size="9" text-anchor="end" font-style="normal" font-weight="normal" fill="#1a1a1a" transform="translate(268.7,209.5) rotate(-45)">epo + kitlgb</text>
<text x="0" y="0" font-size="9" text-anchor="end" font-style="normal" font-weight="normal" fill="#1a1a1a" transform="translate(404.4,209.5) rotate(-45)">epo + kitlgb</text>
<text x="0" y="0" font-size="9" text-anchor="end" font-style="normal" font-weight="normal" fill="#1a1a1a" transform="translate(498.1,209.5) rotate(-45)">epo + kitlgb</text>
<line x1="35.8" y1="246.5" x2="138.9" y2="246.5" stroke="#222" stroke-width="1.1" />
<line x1="160" y1="246.5" x2="262.8" y2="246.5" stroke="#222" stroke-width="1.1" />
<line x1="323.4" y1="246.5" x2="506" y2="246.5" stroke="#222" stroke-width="1.1" />
<text x="87.4" y="259.0" font-size="10.6" text-anchor="middle" font-style="normal" font-weight="normal" fill="#1a1a1a" >WT</text>
<text x="211.6" y="259.2" font-size="10.4" text-anchor="middle" font-style="italic" font-weight="normal" fill="#1a1a1a" >sparse</text>
<text x="414.7" y="259.2" font-size="10.4" text-anchor="middle" font-style="italic" font-weight="normal" fill="#1a1a1a" >sparse</text>
</svg>
</body></html>
